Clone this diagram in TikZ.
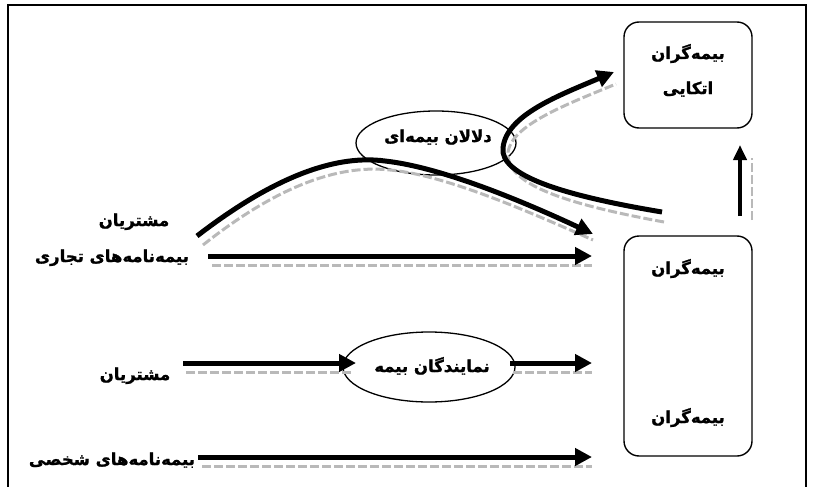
\documentclass[tikz,border=0pt]{standalone}
\usepackage{fontspec}
\usetikzlibrary{arrows.meta,shapes.geometric}
\TeXXeTstate=1
\newfontfamily\arabicfont[Script=Arabic,BoldFont={DejaVu Sans Bold},BoldFeatures={FakeBold=1.2}]{DejaVu Sans}
\newcommand\fa[1]{{\arabicfont\bfseries\beginR #1\endR}}
\tikzset{
  box/.style={draw, line width=1.4pt, rounded corners=15pt, minimum width=128pt, inner sep=0pt},
  oval/.style={ellipse, draw, line width=1.3pt, inner sep=0pt},
  lbl/.style={inner sep=0pt, text height=9pt, text depth=3pt, font=\fontsize{16.5pt}{19pt}\selectfont},
  flow/.style={line width=5pt, -{Triangle[length=17pt,width=17pt]}},
  shade/.style={draw=gray!55, line width=3pt, dash pattern=on 9pt off 3pt}
}
\begin{document}
\begin{tikzpicture}[x=1pt,y=-1pt]
\useasboundingbox (0,0) rectangle (814,487);
% frame
\draw[line width=1.2pt] (8,490) -- (8,5) -- (806,5) -- (806,490);

% boxes
\node[box, minimum height=106pt] (reins) at (688,75) {};
\node[lbl] (reins1) at (688,56) {\fa{بیمه^^^^200cگران}};
\node[lbl] (reins2) at (688,91) {\fa{اتکایی}};
\node[box, minimum height=220pt] (ins) at (688,346) {};
\node[lbl] (ins1) at (688,271) {\fa{بیمه^^^^200cگران}};
\node[lbl] (ins2) at (688,420) {\fa{بیمه^^^^200cگران}};

% ovals
\node[oval, minimum width=160pt, minimum height=64pt] (broker) at (436,143) {};
\node[lbl] (brokert) at (438,139) {\fa{دلالان بیمه^^^^200cای}};
\node[oval, minimum width=172pt, minimum height=70pt] (agent) at (429,367) {};
\node[lbl] (agentt) at (432,369) {\fa{نمایندگان بیمه}};

% left labels
\node[lbl] (cust1) at (134,223) {\fa{مشتریان}};
\node[lbl] (com) at (112,259) {\fa{بیمه^^^^200cنامه^^^^200cهای تجاری}};
\node[lbl] (cust2) at (135,377) {\fa{مشتریان}};
\node[lbl] (pers) at (112,462) {\fa{بیمه^^^^200cنامه^^^^200cهای شخصی}};

% coordinates
\coordinate (a1s) at (197,236);
\coordinate (a1p) at (385,161);
\coordinate (a1e) at (593,234);
\coordinate (a2s) at (208,256);
\coordinate (a2e) at (592,256);
\coordinate (a3s) at (662,212);
\coordinate (a3m) at (503,148);
\coordinate (a3e) at (614,72);
\coordinate (a4s) at (183,363);
\coordinate (a4e) at (356,363);
\coordinate (a5s) at (510,363);
\coordinate (a5e) at (592,363);
\coordinate (a6s) at (198,457);
\coordinate (a6e) at (592,457);
\coordinate (a7s) at (740,216);
\coordinate (a7e) at (740,145);

% shadows
\draw[shade] ([shift={(6,9)}]a1s) .. controls (285,180) and (345,165) .. (390,170) .. controls (445,175) and (525,210) .. ([shift={(0,6)}]a1e);
\draw[shade] ([shift={(4,9)}]a2s) -- ([shift={(0,9)}]a2e);
\draw[shade] ([shift={(2,10)}]a3s) .. controls (560,203) and (505,183) .. (508,152) .. controls (512,125) and (565,105) .. ([shift={(2,12)}]a3e);
\draw[shade] ([shift={(3,9)}]a4s) -- (352,372);
\draw[shade] ([shift={(3,9)}]a5s) -- ([shift={(0,9)}]a5e);
\draw[shade] ([shift={(4,9)}]a6s) -- ([shift={(0,9)}]a6e);
\draw[shade, line width=2pt] (752,220) -- (752,158);

% flows
\draw[flow] (a1s) .. controls (280,172) and (340,155) .. (a1p) .. controls (440,167) and (520,200) .. (a1e);
\draw[flow] (a2s) -- (a2e);
\draw[flow] (a3s) .. controls (560,195) and (500,175) .. (a3m) .. controls (506,115) and (560,95) .. (a3e);
\draw[flow] (a4s) -- (a4e);
\draw[flow] (a5s) -- (a5e);
\draw[flow] (a6s) -- (a6e);
\draw[flow, line width=4.5pt, -{Triangle[length=15pt,width=13pt]}] (a7s) -- (a7e);
\end{tikzpicture}
\end{document}
